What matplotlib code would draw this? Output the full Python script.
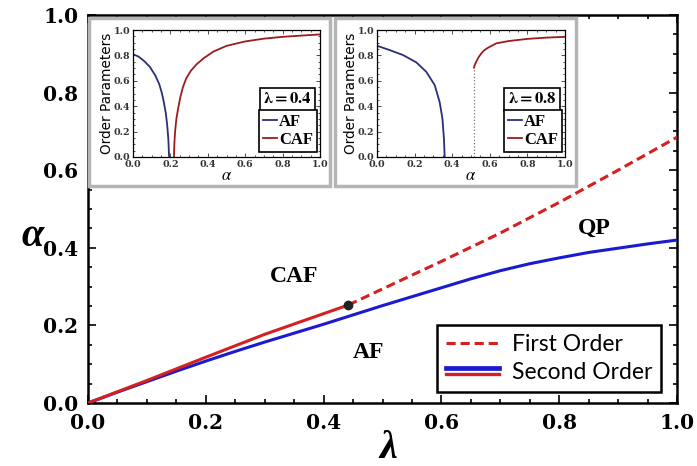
import matplotlib
matplotlib.use("Agg")
import matplotlib.pyplot as plt
from matplotlib.lines import Line2D
from matplotlib.legend_handler import HandlerBase
from matplotlib.patches import Rectangle
from matplotlib.ticker import MultipleLocator

plt.rcParams["mathtext.fontset"] = "stix"

# ---------------- data ----------------
blue_lam = [0.0, 0.05, 0.1, 0.15, 0.2, 0.25, 0.3, 0.35, 0.4, 0.45, 0.5, 0.55, 0.6, 0.65,
            0.7, 0.75, 0.8, 0.85, 0.9, 0.95, 1.0]
blue_alpha = [0.0, 0.028, 0.055, 0.082, 0.108, 0.133, 0.157, 0.18, 0.203, 0.227, 0.251,
              0.274, 0.297, 0.32, 0.341, 0.359, 0.374, 0.388, 0.399, 0.41, 0.42]

red_lam = [0.0, 0.1, 0.2, 0.3, 0.442]
red_alpha = [0.0, 0.058, 0.118, 0.177, 0.2526]

dash_lam = [0.442, 0.5, 0.6, 0.7, 0.8, 0.9, 1.0]
dash_alpha = [0.2526, 0.294, 0.365, 0.438, 0.517, 0.6, 0.685]

tri_point = (0.442, 0.2526)

# inset 1 (lambda = 0.4)
af1_a = [0.0, 0.03, 0.06, 0.09, 0.12, 0.14, 0.155, 0.165, 0.175, 0.183, 0.189, 0.193]
af1_v = [0.81, 0.79, 0.755, 0.71, 0.64, 0.575, 0.5, 0.43, 0.35, 0.25, 0.14, 0.0]
caf1_a = [0.219, 0.221, 0.225, 0.232, 0.241, 0.253, 0.267, 0.285, 0.31, 0.34, 0.38, 0.43,
          0.5, 0.6, 0.7, 0.8, 0.9, 1.0]
caf1_v = [0.0, 0.1, 0.2, 0.3, 0.38, 0.47, 0.55, 0.62, 0.68, 0.73, 0.78, 0.83, 0.875, 0.91,
          0.932, 0.946, 0.956, 0.965]

# inset 2 (lambda = 0.8)
af2_a = [0.0, 0.067, 0.138, 0.209, 0.262, 0.307, 0.333, 0.348, 0.356, 0.36]
af2_v = [0.876, 0.842, 0.803, 0.745, 0.671, 0.566, 0.434, 0.303, 0.145, 0.0]
caf2_a = [0.516, 0.52, 0.528, 0.54, 0.555, 0.57, 0.59, 0.635, 0.7, 0.8, 0.9, 1.0]
caf2_v = [0.703, 0.725, 0.75, 0.785, 0.816, 0.84, 0.86, 0.895, 0.913, 0.93, 0.94, 0.946]
jump2 = 0.516

ticks = [0.0, 0.2, 0.4, 0.6, 0.8, 1.0]
tick_labels = ["0.0", "0.2", "0.4", "0.6", "0.8", "1.0"]

# ---------------- figure ----------------
W, H = 697, 466
fig = plt.figure(figsize=(W / 100, H / 100), dpi=100)


def fx(px):
    return px / W


def fy(py):
    return 1 - py / H


serif = "Liberation Serif"
tickfont = "DejaVu Serif"
BLUE = "#1a1ad0"
RED = "#d42020"

ax = fig.add_axes([fx(88), fy(403), fx(677) - fx(88), fy(15) - fy(403)])
ax.set_xlim(0, 1)
ax.set_ylim(0, 1)
ax.plot(blue_lam, blue_alpha, color=BLUE, lw=2.2, zorder=3)
ax.plot(red_lam, red_alpha, color=RED, lw=2.2, zorder=4)
ax.plot(dash_lam, dash_alpha, color=RED, lw=2.2, ls=(0, (3, 1.6)), zorder=4)
ax.plot([tri_point[0]], [tri_point[1]], marker="o", ms=6, color="#222222", zorder=5)

ax.set_xticks(ticks)
ax.set_yticks(ticks)
ax.set_xticklabels(tick_labels)
ax.set_yticklabels(tick_labels)
ax.xaxis.set_minor_locator(MultipleLocator(0.05))
ax.yaxis.set_minor_locator(MultipleLocator(0.05))
ax.tick_params(which="both", direction="in", top=True, right=True, width=1.2)
ax.tick_params(which="major", length=6, labelsize=14.5, pad=7)
ax.tick_params(which="minor", length=3)
for lab in ax.get_xticklabels() + ax.get_yticklabels():
    lab.set_fontfamily(tickfont)
    lab.set_fontweight("bold")
for sp in ax.spines.values():
    sp.set_linewidth(1.8)

fig.text(fx(33), fy(236), "α", fontsize=29, ha="center", va="center",
         family=serif, fontstyle="italic", fontweight="bold")
fig.text(fx(388), fy(448), "λ", fontsize=29, ha="center", va="center",
         family=serif, fontstyle="italic", fontweight="bold")

ax.text(0.35, 0.325, "CAF", fontsize=17, fontweight="bold", family=serif, ha="center", va="center")
ax.text(0.477, 0.131, "AF", fontsize=17, fontweight="bold", family=serif, ha="center", va="center")
ax.text(0.859, 0.45, "QP", fontsize=17, fontweight="bold", family=serif, ha="center", va="center")


class HandlerDouble(HandlerBase):
    def create_artists(self, legend, orig_handle, xdescent, ydescent, width, height,
                       fontsize, trans):
        yc = height / 2 - ydescent
        l1 = Line2D([-xdescent, width - xdescent], [yc + 2.4, yc + 2.4], color=BLUE, lw=3.4,
                    transform=trans)
        l2 = Line2D([-xdescent, width - xdescent], [yc - 2.2, yc - 2.2], color=RED, lw=2.4,
                    transform=trans)
        return [l1, l2]


h1 = Line2D([], [], color=RED, lw=2.2, ls=(0, (3, 1.6)))
h2 = Line2D([], [], color=BLUE)
leg = ax.legend([h1, h2], ["First Order", "Second Order"], loc="lower right",
                bbox_to_anchor=(0.973, 0.028), borderaxespad=0, fancybox=False,
                edgecolor="black", framealpha=1, handlelength=2.3, handletextpad=0.55,
                borderpad=0.4, labelspacing=0.3,
                prop={"family": "Lato", "size": 16.5},
                handler_map={h2: HandlerDouble()})
leg.get_frame().set_linewidth(1.8)
leg.set_zorder(6)


# ---------------- insets ----------------
def make_box(x0, y0, x1, y1):
    shadow = Rectangle((fx(x0) + 0.003, fy(y1) - 0.005), fx(x1) - fx(x0), fy(y0) - fy(y1),
                       transform=fig.transFigure, facecolor="#8a8a8a", edgecolor="none",
                       zorder=7)
    box = Rectangle((fx(x0), fy(y1)), fx(x1) - fx(x0), fy(y0) - fy(y1),
                    transform=fig.transFigure, facecolor="white", edgecolor="#b5b5b5",
                    lw=2.5, zorder=8)
    fig.patches.extend([shadow, box])


make_box(89, 18, 330, 186)
make_box(335, 18, 576, 186)

AFC = "#2a2f78"
CAFC = "#9a1c1c"


def make_inset(left_px, right_px, lam_text, af_a, af_v, caf_a, caf_v, jump=None):
    ia = fig.add_axes([fx(left_px), fy(157), fx(right_px) - fx(left_px), fy(30) - fy(157)])
    ia.set_zorder(10)
    ia.set_xlim(0, 1)
    ia.set_ylim(0, 1)
    ia.plot(af_a, af_v, color=AFC, lw=1.3)
    ia.plot(caf_a, caf_v, color=CAFC, lw=1.3)
    if jump is not None:
        ia.plot([jump, jump], [0, caf_v[0]], color="#777777", lw=0.9, ls=":")
    ia.set_xticks(ticks)
    ia.set_yticks(ticks)
    ia.set_xticklabels(tick_labels)
    ia.set_yticklabels(tick_labels)
    ia.xaxis.set_minor_locator(MultipleLocator(0.05))
    ia.yaxis.set_minor_locator(MultipleLocator(0.05))
    ia.tick_params(which="both", direction="in", top=True, right=True, width=0.6,
                   colors="#333333")
    ia.tick_params(which="major", length=3, labelsize=6.8, pad=2)
    ia.tick_params(which="minor", length=1.5)
    for lab in ia.get_xticklabels() + ia.get_yticklabels():
        lab.set_fontfamily(tickfont)
        lab.set_fontweight("bold")
    for sp in ia.spines.values():
        sp.set_linewidth(0.9)
    ia.set_ylabel("Order Parameters", fontsize=9.8, family="DejaVu Sans", labelpad=0)
    ia.set_xlabel(r"$\alpha$", fontsize=12, labelpad=-2)
    ia.text(0.825, 0.455, lam_text, transform=ia.transAxes, ha="center", va="center",
            fontsize=12, family=serif,
            bbox=dict(boxstyle="square,pad=0.2", facecolor="white", edgecolor="black", lw=1.2))
    lg = ia.legend([Line2D([], [], color=AFC, lw=1.3), Line2D([], [], color=CAFC, lw=1.3)],
                   ["AF", "CAF"], loc="lower right", bbox_to_anchor=(0.985, 0.04),
                   borderaxespad=0, fancybox=False, edgecolor="black", framealpha=1,
                   handlelength=0.8, handletextpad=0.15, borderpad=0.25, labelspacing=0.1,
                   prop={"family": serif, "weight": "bold", "size": 12})
    lg.get_frame().set_linewidth(1.2)
    return ia


make_inset(133, 320, r"$\mathbf{\lambda = 0.4}$", af1_a, af1_v, caf1_a, caf1_v)
make_inset(377, 565, r"$\mathbf{\lambda = 0.8}$", af2_a, af2_v, caf2_a, caf2_v, jump=jump2)

fig.savefig("out.png", dpi=100)
